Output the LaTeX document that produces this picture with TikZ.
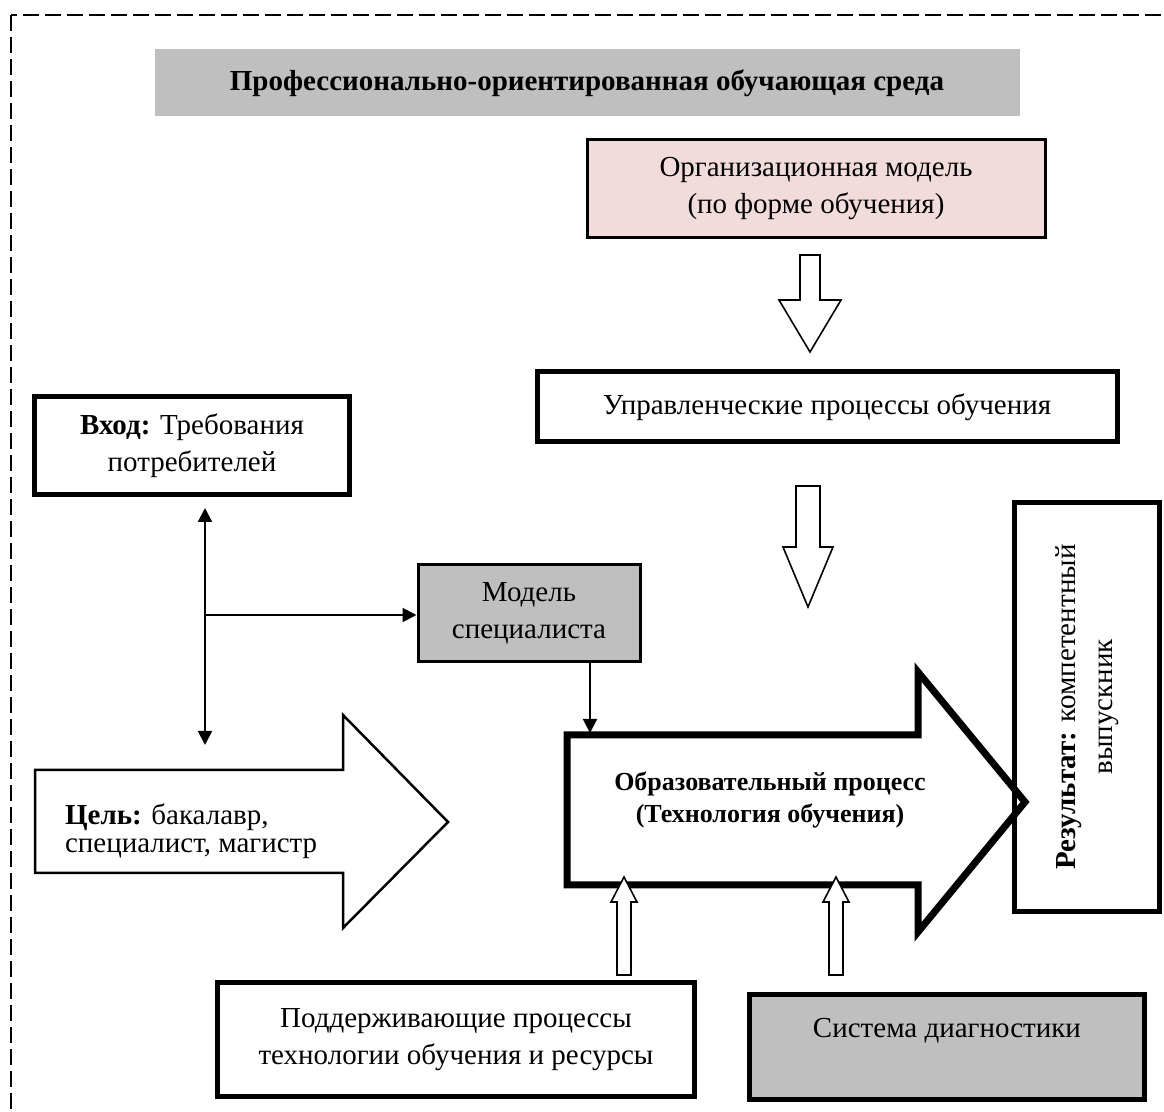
\documentclass[tikz,border=0pt]{standalone}
\usepackage{fontspec}
\setmainfont{Liberation Serif}
\usetikzlibrary{arrows.meta, positioning, calc}

\definecolor{graybox}{HTML}{BFBFBF}
\definecolor{pinkbox}{HTML}{F2DCDB}
\newcommand{\txtmain}{\fontsize{14.5}{18.5}\selectfont}
\newcommand{\txtgoal}{\fontsize{14.5}{14}\selectfont}
\newcommand{\txtedu}{\fontsize{13}{16}\selectfont}

\begin{document}
\begin{tikzpicture}[
        x=0.5pt, y=-0.5pt,
        box/.style={draw, line width=2.5pt, align=center, font=\txtmain, inner sep=2pt},
        thinbox/.style={box, line width=1.5pt},
        hollow/.style={draw, line width=0.8pt, fill=white},
        link/.style={-{Triangle[length=7pt, width=7pt]}, line width=1pt},
        dlink/.style={{Triangle[length=7pt, width=7pt]}-{Triangle[length=7pt, width=7pt]}, line width=1pt},
        frame/.style={draw, line width=0.75pt, dash pattern=on 8pt off 3pt}
    ]
    \useasboundingbox (0,0) rectangle (1164,1112);
    \clip (0,0) rectangle (1164,1112);

    % Outer dashed frame (runs past the page)
    \draw[frame] (11,15) rectangle (1200,1150);

    % Title
    \node[fill=graybox, minimum width=432.5pt, minimum height=33.5pt, font=\txtmain\bfseries] (title) at (587,83) {Профессионально-ориентированная обучающая среда};

    % Boxes
    \node[thinbox, fill=pinkbox, minimum width=229pt, minimum height=49pt] (orgmodel) at (816,189) {Организационная модель\\(по форме обучения)};
    \node[box, minimum width=290pt, minimum height=35pt] (mgmt) at (827,407) {Управленческие процессы обучения};
    \node[box, minimum width=157.5pt, minimum height=49pt] (entry) at (192,446) {\textbf{Вход:} Требования\\потребителей};
    \node[thinbox, fill=graybox, minimum width=111pt, minimum height=48.5pt] (specmodel) at (529,613) {Модель\\специалиста};
    \node[box, rotate=90, minimum width=204.5pt, minimum height=72.5pt] (result) at (1087,707) {\textbf{Результат:} компетентный\\выпускник};
    \node[box, minimum width=238.5pt, minimum height=57pt] (support) at (456,1040) {Поддерживающие процессы\\технологии обучения и ресурсы};
    \node[box, fill=graybox, minimum width=197.5pt, minimum height=52.5pt, text height=10pt, text depth=20pt] (diag) at (947,1047) {Система диагностики};

    % Goal arrow
    \draw[line width=1.25pt] (35,770) -- (343,770) -- (343,715) -- (448,822) -- (343,928) -- (343,873) -- (35,873) -- cycle;
    \node[anchor=west, align=left, font=\txtgoal] (goal) at (58,831) {\textbf{Цель:} бакалавр,\\специалист, магистр};

    % Education process arrow
    \draw[line width=3.5pt] (567,735) -- (918,735) -- (918,672) -- (1025,802) -- (918,932) -- (918,885) -- (567,885) -- cycle;
    \node[font=\txtedu\bfseries, align=center] (edu) at (770,800) {Образовательный процесс\\(Технология обучения)};

    % Hollow arrows
    \draw[hollow] (800,255) -- (820,255) -- (820,300) -- (841,300) -- (810,352) -- (779,300) -- (800,300) -- cycle;
    \draw[hollow] (796,486) -- (820,486) -- (820,547) -- (833,547) -- (808,607) -- (783,547) -- (796,547) -- cycle;
    \draw[hollow] (617,975) -- (631,975) -- (631,902) -- (637,902) -- (624,877) -- (611,902) -- (617,902) -- cycle;
    \draw[hollow] (829,975) -- (843,975) -- (843,902) -- (849,902) -- (836,877) -- (823,902) -- (829,902) -- cycle;

    % Thin connectors
    \coordinate (reqtop) at (205,508);
    \coordinate (reqbot) at (205,745);
    \coordinate (split) at (205,615);
    \coordinate (edutop) at (590,733);
    \draw[dlink] (reqtop) -- (reqbot);
    \draw[link] (split) -- (split -| specmodel.west);
    \draw[link] (edutop |- specmodel.south) -- (edutop);

\end{tikzpicture}
\end{document}
